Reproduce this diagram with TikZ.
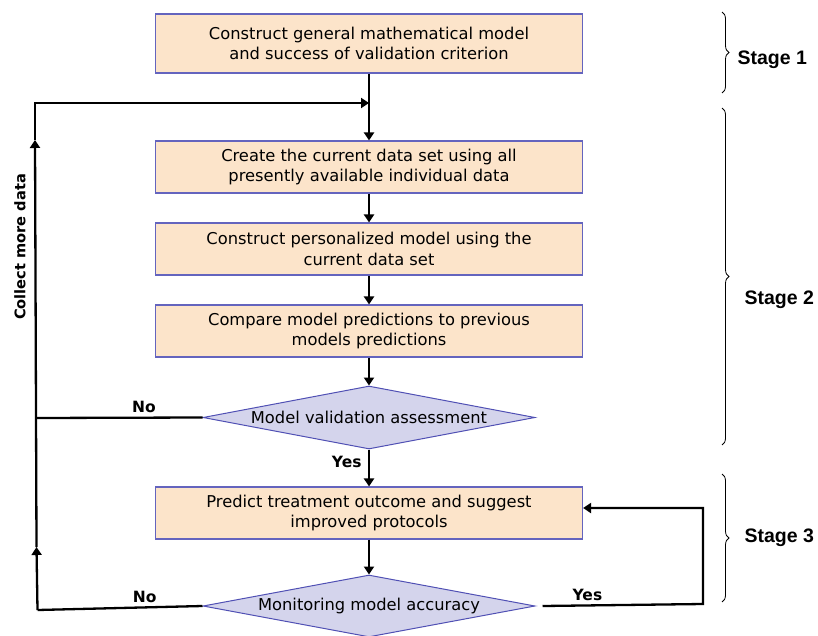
\documentclass[tikz,border=0pt]{standalone}
\usepackage{fontspec}
\setmainfont{DejaVu Sans}
\newfontfamily\stagefont{Liberation Sans}
\usetikzlibrary{shapes.geometric,arrows.meta,decorations.pathreplacing}
\definecolor{boxfill}{RGB}{252,228,202}
\definecolor{boxline}{RGB}{100,100,190}
\definecolor{diafill}{RGB}{212,212,236}
\definecolor{dialine}{RGB}{80,80,180}
\tikzset{
  stepbox/.style={draw=boxline, fill=boxfill, line width=1.1pt, minimum width=427pt, minimum height=52pt,
    align=center, inner sep=0pt, font=\fontsize{16.3}{20.5}\selectfont},
  decision/.style={diamond, draw=dialine, fill=diafill, line width=1pt, minimum width=332pt, minimum height=63pt,
    aspect=5.27, inner sep=0pt, font=\fontsize{16.3}{20}\selectfont},
  flow/.style={line width=2.3pt, -{Triangle[length=8pt,width=10pt]}},
  plain/.style={line width=2.3pt},
  lbl/.style={font=\fontsize{15.5}{18}\selectfont\bfseries},
  stagelbl/.style={font=\fontsize{19.5}{22}\selectfont\stagefont\bfseries, anchor=west},
  stagebrace/.style={decorate, decoration={brace, amplitude=7pt}, line width=0.8pt}
}
\begin{document}
\begin{tikzpicture}[x=1pt,y=-1pt]
\useasboundingbox (0,0) rectangle (818,636);

\node[stepbox, minimum height=59pt] (b1) at (369,43.5) {Construct general mathematical model\\and success of validation criterion};
\node[stepbox] (b2) at (369,167) {Create the current data set using all\\presently available individual data};
\node[stepbox] (b3) at (369,249) {Construct personalized model using the\\current data set};
\node[stepbox] (b4) at (369,331) {Compare model predictions to previous\\models predictions};
\node[decision] (d1) at (369,417.5) {Model validation assessment};
\node[stepbox] (b5) at (369,513) {Predict treatment outcome and suggest\\improved protocols};
\node[decision, minimum height=62pt] (d2) at (369,606) {Monitoring model accuracy};

% main flow
\coordinate (j) at (b1.south |- 0,103);
\draw[flow] (b1) -- (b2);
\draw[flow] (b2) -- (b3);
\draw[flow] (b3) -- (b4);
\draw[flow] (b4) -- (d1);
\draw[flow] (d1) -- node[lbl, left=3pt, pos=0.35] (yes1) {Yes} (b5);
\draw[flow] (b5) -- (d2);

% feedback loop (collect more data)
\coordinate (L1) at (35,103);
\coordinate (A2) at (35,140);
\coordinate (A1) at (36.5,547);
\coordinate (Lm) at (35.5,418);
\coordinate (L2) at (37.5,610);
\draw[plain] (d1.west) -- node[lbl, above=0pt, pos=0.35] (no1) {No} (Lm);
\draw[plain] (d2.west) -- node[lbl, above=0pt, pos=0.35] (no2) {No} (L2);
\draw[flow] (L2) -- (A1);
\draw[flow] (A1) -- (A2);
\draw[flow] (A2) -- (L1) -- (j);
\node[lbl, font=\fontsize{14.6}{17}\selectfont\bfseries, rotate=90] (collect) at (20,247) {Collect more data};

% yes loop
\coordinate (r1) at (703,604);
\coordinate (r2) at (703,508);
\draw[flow] ([xshift=7pt]d2.east) -- node[lbl, above=0pt, pos=0.28] (yes2) {Yes} (r1) -- (r2) -- (b5.east |- r2);

% braces
\coordinate (s1a) at (722,12); \coordinate (s1b) at (722,93);
\coordinate (s2a) at (722,108); \coordinate (s2b) at (722,445);
\coordinate (s3a) at (722,474); \coordinate (s3b) at (722,602);
\draw[stagebrace] (s1a) -- (s1b);
\draw[stagebrace] (s2a) -- (s2b);
\draw[stagebrace] (s3a) -- (s3b);
\node[stagelbl] (st1) at (734,60) {Stage 1};
\node[stagelbl] (st2) at (741,300) {Stage 2};
\node[stagelbl] (st3) at (741,538) {Stage 3};
\end{tikzpicture}
\end{document}
